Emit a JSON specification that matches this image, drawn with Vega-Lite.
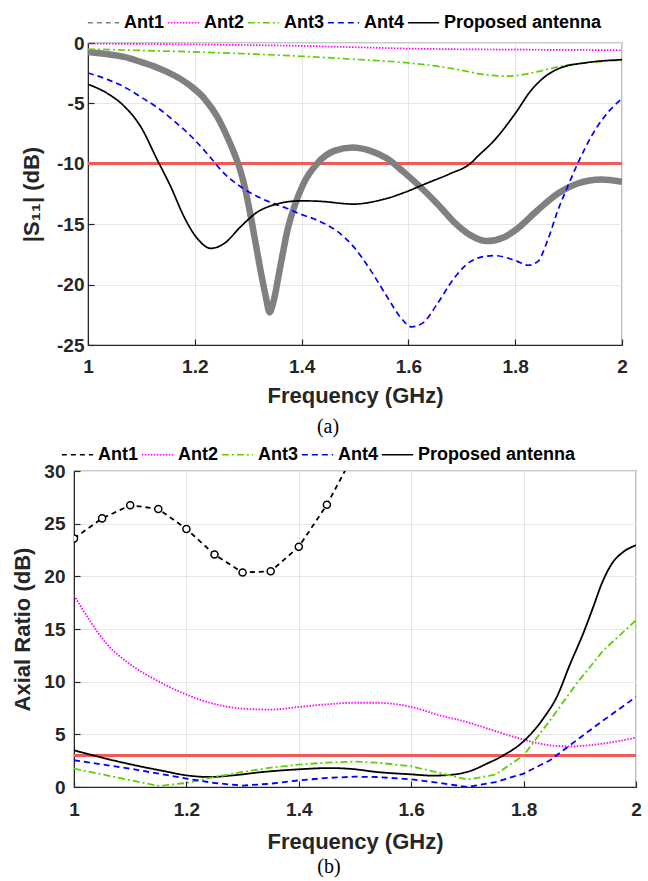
{
  "$schema": "https://vega.github.io/schema/vega-lite/v6.json",
  "background": "white",
  "padding": {"left": 11, "top": 5, "right": 2, "bottom": 2},
  "spacing": 126,
  "center": true,
  "bounds": "flush",
  "config": {
    "view": {"stroke": "#262626", "strokeWidth": 1.2},
    "axis": {
      "labelFont": "Liberation Sans", "labelFontSize": 19, "labelFontWeight": "bold", "labelColor": "#262626",
      "titleFont": "Liberation Sans", "titleFontSize": 22, "titleFontWeight": "bold", "titleColor": "#262626",
      "gridColor": "#e6e6e6", "gridWidth": 1, "domainColor": "#262626", "tickColor": "#262626",
      "tickSize": -6, "tickWidth": 1.2, "labelFlush": false, "labelOverlap": false
    },
    "legend": {
      "orient": "none", "direction": "horizontal", "title": null,
      "labelFont": "Liberation Sans", "labelFontSize": 18, "labelFontWeight": "bold", "labelColor": "#000000",
      "symbolType": "stroke", "symbolSize": 980, "symbolStrokeWidth": 1.6,
      "columnPadding": 0, "labelOffset": 4, "labelLimit": 400, "padding": 0
    },
    "title": {"font": "Liberation Serif", "fontSize": 20, "fontWeight": "normal", "color": "#000000", "orient": "bottom", "anchor": "middle", "offset": 8}
  },
  "datasets": {
    "s11": [
      {"f": 1.0, "v": -0.74, "s": "Ant1"}, {"f": 1.037, "v": -0.93, "s": "Ant1"}, {"f": 1.068, "v": -1.15, "s": "Ant1"},
      {"f": 1.099, "v": -1.57, "s": "Ant1"}, {"f": 1.13, "v": -2.04, "s": "Ant1"}, {"f": 1.161, "v": -2.67, "s": "Ant1"},
      {"f": 1.193, "v": -3.58, "s": "Ant1"}, {"f": 1.218, "v": -4.6, "s": "Ant1"}, {"f": 1.242, "v": -6.1, "s": "Ant1"},
      {"f": 1.261, "v": -7.8, "s": "Ant1"}, {"f": 1.274, "v": -9.15, "s": "Ant1"}, {"f": 1.285, "v": -10.5, "s": "Ant1"},
      {"f": 1.295, "v": -12.2, "s": "Ant1"}, {"f": 1.305, "v": -14.4, "s": "Ant1"}, {"f": 1.314, "v": -16.6, "s": "Ant1"},
      {"f": 1.323, "v": -18.8, "s": "Ant1"}, {"f": 1.333, "v": -21.0, "s": "Ant1"}, {"f": 1.34, "v": -22.3, "s": "Ant1"},
      {"f": 1.348, "v": -21.3, "s": "Ant1"}, {"f": 1.358, "v": -19.0, "s": "Ant1"}, {"f": 1.367, "v": -16.9, "s": "Ant1"},
      {"f": 1.374, "v": -15.4, "s": "Ant1"}, {"f": 1.386, "v": -13.6, "s": "Ant1"}, {"f": 1.404, "v": -11.6, "s": "Ant1"},
      {"f": 1.429, "v": -9.98, "s": "Ant1"}, {"f": 1.461, "v": -8.93, "s": "Ant1"}, {"f": 1.495, "v": -8.65, "s": "Ant1"},
      {"f": 1.529, "v": -8.93, "s": "Ant1"}, {"f": 1.56, "v": -9.56, "s": "Ant1"}, {"f": 1.591, "v": -10.67, "s": "Ant1"},
      {"f": 1.622, "v": -11.9, "s": "Ant1"}, {"f": 1.654, "v": -13.3, "s": "Ant1"}, {"f": 1.685, "v": -14.8, "s": "Ant1"},
      {"f": 1.716, "v": -15.9, "s": "Ant1"}, {"f": 1.747, "v": -16.4, "s": "Ant1"}, {"f": 1.778, "v": -16.1, "s": "Ant1"},
      {"f": 1.8, "v": -15.5, "s": "Ant1"}, {"f": 1.842, "v": -13.84, "s": "Ant1"}, {"f": 1.88, "v": -12.46, "s": "Ant1"},
      {"f": 1.917, "v": -11.63, "s": "Ant1"}, {"f": 1.961, "v": -11.3, "s": "Ant1"}, {"f": 2.0, "v": -11.5, "s": "Ant1"},

      {"f": 1.0, "v": -0.05, "s": "Ant2"}, {"f": 1.1, "v": -0.08, "s": "Ant2"}, {"f": 1.2, "v": -0.12, "s": "Ant2"},
      {"f": 1.3, "v": -0.17, "s": "Ant2"}, {"f": 1.4, "v": -0.24, "s": "Ant2"}, {"f": 1.5, "v": -0.35, "s": "Ant2"},
      {"f": 1.6, "v": -0.46, "s": "Ant2"}, {"f": 1.7, "v": -0.52, "s": "Ant2"}, {"f": 1.8, "v": -0.55, "s": "Ant2"},
      {"f": 1.9, "v": -0.57, "s": "Ant2"}, {"f": 2.0, "v": -0.6, "s": "Ant2"},

      {"f": 1.0, "v": -0.5, "s": "Ant3"}, {"f": 1.1, "v": -0.62, "s": "Ant3"}, {"f": 1.2, "v": -0.74, "s": "Ant3"},
      {"f": 1.3, "v": -0.9, "s": "Ant3"}, {"f": 1.4, "v": -1.1, "s": "Ant3"}, {"f": 1.5, "v": -1.35, "s": "Ant3"},
      {"f": 1.6, "v": -1.65, "s": "Ant3"}, {"f": 1.65, "v": -1.9, "s": "Ant3"}, {"f": 1.7, "v": -2.26, "s": "Ant3"},
      {"f": 1.73, "v": -2.53, "s": "Ant3"}, {"f": 1.755, "v": -2.68, "s": "Ant3"}, {"f": 1.78, "v": -2.75, "s": "Ant3"},
      {"f": 1.805, "v": -2.68, "s": "Ant3"}, {"f": 1.83, "v": -2.48, "s": "Ant3"}, {"f": 1.886, "v": -1.93, "s": "Ant3"},
      {"f": 1.935, "v": -1.62, "s": "Ant3"}, {"f": 2.0, "v": -1.43, "s": "Ant3"},

      {"f": 1.0, "v": -2.48, "s": "Ant4"}, {"f": 1.037, "v": -3.03, "s": "Ant4"}, {"f": 1.068, "v": -3.64, "s": "Ant4"},
      {"f": 1.099, "v": -4.47, "s": "Ant4"}, {"f": 1.13, "v": -5.35, "s": "Ant4"}, {"f": 1.161, "v": -6.45, "s": "Ant4"},
      {"f": 1.193, "v": -7.72, "s": "Ant4"}, {"f": 1.224, "v": -9.2, "s": "Ant4"}, {"f": 1.255, "v": -10.8, "s": "Ant4"},
      {"f": 1.286, "v": -11.9, "s": "Ant4"}, {"f": 1.317, "v": -12.7, "s": "Ant4"}, {"f": 1.348, "v": -13.3, "s": "Ant4"},
      {"f": 1.373, "v": -13.7, "s": "Ant4"}, {"f": 1.392, "v": -14.06, "s": "Ant4"}, {"f": 1.429, "v": -14.67, "s": "Ant4"},
      {"f": 1.467, "v": -15.6, "s": "Ant4"}, {"f": 1.498, "v": -16.9, "s": "Ant4"}, {"f": 1.529, "v": -18.8, "s": "Ant4"},
      {"f": 1.56, "v": -21.0, "s": "Ant4"}, {"f": 1.585, "v": -22.7, "s": "Ant4"}, {"f": 1.606, "v": -23.5, "s": "Ant4"},
      {"f": 1.629, "v": -23.1, "s": "Ant4"}, {"f": 1.654, "v": -21.6, "s": "Ant4"}, {"f": 1.685, "v": -19.5, "s": "Ant4"},
      {"f": 1.716, "v": -18.1, "s": "Ant4"}, {"f": 1.745, "v": -17.65, "s": "Ant4"}, {"f": 1.761, "v": -17.6, "s": "Ant4"},
      {"f": 1.8, "v": -18.0, "s": "Ant4"}, {"f": 1.824, "v": -18.4, "s": "Ant4"}, {"f": 1.842, "v": -18.1, "s": "Ant4"},
      {"f": 1.861, "v": -16.3, "s": "Ant4"}, {"f": 1.88, "v": -13.84, "s": "Ant4"}, {"f": 1.898, "v": -11.9, "s": "Ant4"},
      {"f": 1.917, "v": -9.98, "s": "Ant4"}, {"f": 1.942, "v": -7.78, "s": "Ant4"}, {"f": 1.967, "v": -6.1, "s": "Ant4"},
      {"f": 2.0, "v": -4.6, "s": "Ant4"},

      {"f": 1.0, "v": -3.42, "s": "Proposed antenna"}, {"f": 1.037, "v": -4.19, "s": "Proposed antenna"},
      {"f": 1.068, "v": -5.24, "s": "Proposed antenna"}, {"f": 1.099, "v": -6.95, "s": "Proposed antenna"},
      {"f": 1.13, "v": -9.7, "s": "Proposed antenna"}, {"f": 1.155, "v": -11.9, "s": "Proposed antenna"},
      {"f": 1.18, "v": -14.4, "s": "Proposed antenna"}, {"f": 1.205, "v": -16.2, "s": "Proposed antenna"},
      {"f": 1.23, "v": -17.0, "s": "Proposed antenna"}, {"f": 1.255, "v": -16.6, "s": "Proposed antenna"},
      {"f": 1.286, "v": -15.2, "s": "Proposed antenna"}, {"f": 1.317, "v": -14.0, "s": "Proposed antenna"},
      {"f": 1.348, "v": -13.4, "s": "Proposed antenna"}, {"f": 1.373, "v": -13.15, "s": "Proposed antenna"},
      {"f": 1.395, "v": -13.07, "s": "Proposed antenna"}, {"f": 1.42, "v": -13.08, "s": "Proposed antenna"},
      {"f": 1.448, "v": -13.15, "s": "Proposed antenna"}, {"f": 1.475, "v": -13.28, "s": "Proposed antenna"},
      {"f": 1.498, "v": -13.34, "s": "Proposed antenna"}, {"f": 1.52, "v": -13.25, "s": "Proposed antenna"},
      {"f": 1.541, "v": -13.07, "s": "Proposed antenna"}, {"f": 1.565, "v": -12.8, "s": "Proposed antenna"},
      {"f": 1.591, "v": -12.4, "s": "Proposed antenna"}, {"f": 1.635, "v": -11.6, "s": "Proposed antenna"},
      {"f": 1.679, "v": -10.8, "s": "Proposed antenna"}, {"f": 1.716, "v": -9.98, "s": "Proposed antenna"},
      {"f": 1.73, "v": -9.37, "s": "Proposed antenna"}, {"f": 1.761, "v": -8.05, "s": "Proposed antenna"},
      {"f": 1.8, "v": -5.84, "s": "Proposed antenna"}, {"f": 1.83, "v": -3.91, "s": "Proposed antenna"},
      {"f": 1.855, "v": -2.81, "s": "Proposed antenna"}, {"f": 1.886, "v": -2.04, "s": "Proposed antenna"},
      {"f": 1.93, "v": -1.65, "s": "Proposed antenna"}, {"f": 2.0, "v": -1.38, "s": "Proposed antenna"}
    ],
    "ar": [
      {"f": 1.0, "v": 23.6, "s": "Ant1"}, {"f": 1.05, "v": 25.5, "s": "Ant1"}, {"f": 1.1, "v": 26.75, "s": "Ant1"},
      {"f": 1.15, "v": 26.4, "s": "Ant1"}, {"f": 1.2, "v": 24.5, "s": "Ant1"}, {"f": 1.25, "v": 22.07, "s": "Ant1"},
      {"f": 1.3, "v": 20.36, "s": "Ant1"}, {"f": 1.35, "v": 20.48, "s": "Ant1"}, {"f": 1.4, "v": 22.8, "s": "Ant1"},
      {"f": 1.45, "v": 26.8, "s": "Ant1"}, {"f": 1.5, "v": 31.8, "s": "Ant1"},

      {"f": 1.0, "v": 18.2, "s": "Ant2"}, {"f": 1.028, "v": 15.8, "s": "Ant2"}, {"f": 1.058, "v": 13.6, "s": "Ant2"},
      {"f": 1.1, "v": 11.65, "s": "Ant2"}, {"f": 1.15, "v": 10.04, "s": "Ant2"}, {"f": 1.2, "v": 8.77, "s": "Ant2"},
      {"f": 1.25, "v": 7.88, "s": "Ant2"}, {"f": 1.3, "v": 7.44, "s": "Ant2"}, {"f": 1.35, "v": 7.35, "s": "Ant2"},
      {"f": 1.4, "v": 7.6, "s": "Ant2"}, {"f": 1.45, "v": 7.85, "s": "Ant2"}, {"f": 1.5, "v": 8.0, "s": "Ant2"},
      {"f": 1.538, "v": 8.0, "s": "Ant2"}, {"f": 1.6, "v": 7.6, "s": "Ant2"}, {"f": 1.651, "v": 6.8, "s": "Ant2"},
      {"f": 1.699, "v": 6.17, "s": "Ant2"}, {"f": 1.749, "v": 5.32, "s": "Ant2"}, {"f": 1.8, "v": 4.5, "s": "Ant2"},
      {"f": 1.847, "v": 3.96, "s": "Ant2"}, {"f": 1.883, "v": 3.86, "s": "Ant2"}, {"f": 1.942, "v": 4.12, "s": "Ant2"},
      {"f": 2.0, "v": 4.69, "s": "Ant2"},

      {"f": 1.0, "v": 1.74, "s": "Ant3"}, {"f": 1.15, "v": 0.1, "s": "Ant3"}, {"f": 1.2, "v": 0.38, "s": "Ant3"},
      {"f": 1.25, "v": 0.95, "s": "Ant3"}, {"f": 1.3, "v": 1.43, "s": "Ant3"}, {"f": 1.35, "v": 1.84, "s": "Ant3"},
      {"f": 1.4, "v": 2.13, "s": "Ant3"}, {"f": 1.45, "v": 2.32, "s": "Ant3"}, {"f": 1.5, "v": 2.41, "s": "Ant3"},
      {"f": 1.538, "v": 2.32, "s": "Ant3"}, {"f": 1.6, "v": 1.97, "s": "Ant3"}, {"f": 1.651, "v": 1.33, "s": "Ant3"},
      {"f": 1.7, "v": 0.7, "s": "Ant3"}, {"f": 1.75, "v": 1.18, "s": "Ant3"}, {"f": 1.8, "v": 3.0, "s": "Ant3"},
      {"f": 1.847, "v": 6.33, "s": "Ant3"}, {"f": 1.894, "v": 9.8, "s": "Ant3"}, {"f": 1.942, "v": 12.98, "s": "Ant3"},
      {"f": 2.0, "v": 15.83, "s": "Ant3"},

      {"f": 1.0, "v": 2.54, "s": "Ant4"}, {"f": 1.1, "v": 1.74, "s": "Ant4"}, {"f": 1.2, "v": 0.8, "s": "Ant4"},
      {"f": 1.25, "v": 0.38, "s": "Ant4"}, {"f": 1.3, "v": 0.13, "s": "Ant4"}, {"f": 1.35, "v": 0.32, "s": "Ant4"},
      {"f": 1.4, "v": 0.63, "s": "Ant4"}, {"f": 1.45, "v": 0.86, "s": "Ant4"}, {"f": 1.5, "v": 0.98, "s": "Ant4"},
      {"f": 1.538, "v": 0.95, "s": "Ant4"}, {"f": 1.6, "v": 0.73, "s": "Ant4"}, {"f": 1.651, "v": 0.38, "s": "Ant4"},
      {"f": 1.7, "v": 0.0, "s": "Ant4"}, {"f": 1.75, "v": 0.47, "s": "Ant4"}, {"f": 1.8, "v": 1.27, "s": "Ant4"},
      {"f": 1.847, "v": 2.54, "s": "Ant4"}, {"f": 1.894, "v": 4.43, "s": "Ant4"}, {"f": 1.942, "v": 6.33, "s": "Ant4"},
      {"f": 2.0, "v": 8.55, "s": "Ant4"},

      {"f": 1.0, "v": 3.49, "s": "Proposed antenna"}, {"f": 1.04, "v": 2.92, "s": "Proposed antenna"},
      {"f": 1.1, "v": 2.16, "s": "Proposed antenna"}, {"f": 1.159, "v": 1.52, "s": "Proposed antenna"},
      {"f": 1.2, "v": 1.11, "s": "Proposed antenna"}, {"f": 1.242, "v": 0.95, "s": "Proposed antenna"},
      {"f": 1.278, "v": 1.08, "s": "Proposed antenna"}, {"f": 1.337, "v": 1.43, "s": "Proposed antenna"},
      {"f": 1.4, "v": 1.68, "s": "Proposed antenna"}, {"f": 1.456, "v": 1.8, "s": "Proposed antenna"},
      {"f": 1.497, "v": 1.7, "s": "Proposed antenna"}, {"f": 1.538, "v": 1.43, "s": "Proposed antenna"},
      {"f": 1.6, "v": 1.2, "s": "Proposed antenna"}, {"f": 1.639, "v": 1.08, "s": "Proposed antenna"},
      {"f": 1.675, "v": 1.18, "s": "Proposed antenna"}, {"f": 1.705, "v": 1.52, "s": "Proposed antenna"},
      {"f": 1.734, "v": 2.2, "s": "Proposed antenna"}, {"f": 1.764, "v": 3.0, "s": "Proposed antenna"},
      {"f": 1.8, "v": 4.34, "s": "Proposed antenna"}, {"f": 1.835, "v": 6.5, "s": "Proposed antenna"},
      {"f": 1.859, "v": 8.55, "s": "Proposed antenna"}, {"f": 1.883, "v": 11.7, "s": "Proposed antenna"},
      {"f": 1.906, "v": 14.57, "s": "Proposed antenna"}, {"f": 1.924, "v": 17.1, "s": "Proposed antenna"},
      {"f": 1.939, "v": 19.3, "s": "Proposed antenna"}, {"f": 1.957, "v": 21.2, "s": "Proposed antenna"},
      {"f": 1.977, "v": 22.3, "s": "Proposed antenna"}, {"f": 2.0, "v": 22.95, "s": "Proposed antenna"}
    ]
  },
  "resolve": {"scale": {"color": "independent", "strokeDash": "independent"}},
  "vconcat": [
    {
      "width": 534,
      "height": 302,
      "title": {"text": "(a)", "dx": -27, "offset": 11},
      "data": {"name": "s11"},
      "encoding": {
        "x": {"field": "f", "type": "quantitative", "scale": {"domain": [1, 2], "nice": false},
              "axis": {"title": "Frequency (GHz)", "values": [1, 1.2, 1.4, 1.6, 1.8, 2], "format": "~g", "labelPadding": 18, "titlePadding": 9}},
        "y": {"field": "v", "type": "quantitative", "scale": {"domain": [-25, 0], "nice": false},
              "axis": {"title": "|S₁₁| (dB)", "values": [-25, -20, -15, -10, -5, 0], "labelExpr": "replace(datum.label, '\u2212', '-')", "labelPadding": 10, "titlePadding": 13}}
      },
      "layer": [
        {
          "mark": {"type": "rule", "color": "#f25a5a", "strokeWidth": 2.5, "opacity": 0.85},
          "encoding": {"x": {"datum": 1}, "x2": {"datum": 2}, "y": {"datum": -10}}
        },
        {
          "transform": [{"filter": "datum.s === 'Ant1'"}],
          "mark": {"type": "line", "interpolate": "monotone", "clip": true, "strokeWidth": 6.5},
          "encoding": {
            "color": {"field": "s", "type": "nominal",
                      "scale": {"domain": ["Ant1", "Ant2", "Ant3", "Ant4", "Proposed antenna"], "range": ["#808080", "#ff00ff", "#5dd000", "#0000ff", "#000000"]},
                      "legend": {"legendX": -1, "legendY": -37, "encode": {"symbols": {"update": {"strokeWidth": {"value": 1.6}}}}}},
            "order": {"field": "f"}
          }
        },
        {
          "transform": [{"filter": "datum.s !== 'Ant1'"}],
          "mark": {"type": "line", "interpolate": "monotone", "clip": true, "strokeWidth": 1.7},
          "encoding": {
            "color": {"field": "s", "type": "nominal", "legend": {"legendX": -1, "legendY": -37, "encode": {"symbols": {"update": {"strokeWidth": {"value": 1.6}}}}}},
            "strokeDash": {"field": "s", "type": "nominal",
                      "scale": {"domain": ["Ant1", "Ant2", "Ant3", "Ant4", "Proposed antenna"], "range": [[5, 4], [1.5, 1.5], [7, 3, 2, 3], [6, 4], [1, 0]]},
                      "legend": {"legendX": -1, "legendY": -37, "encode": {"symbols": {"update": {"strokeWidth": {"value": 1.6}}}}}},
            "order": {"field": "f"}
          }
        }
      ]
    },
    {
      "width": 562,
      "height": 316,
      "title": {"text": "(b)", "dx": -26, "offset": 5},
      "data": {"name": "ar"},
      "encoding": {
        "x": {"field": "f", "type": "quantitative", "scale": {"domain": [1, 2], "nice": false},
              "axis": {"title": "Frequency (GHz)", "values": [1, 1.2, 1.4, 1.6, 1.8, 2], "format": "~g", "labelPadding": 19, "titlePadding": 12}},
        "y": {"field": "v", "type": "quantitative", "scale": {"domain": [0, 30], "nice": false},
              "axis": {"title": "Axial Ratio (dB)", "values": [0, 5, 10, 15, 20, 25, 30], "labelPadding": 15, "titlePadding": 9}}
      },
      "layer": [
        {
          "mark": {"type": "rule", "color": "#f25a5a", "strokeWidth": 2.5, "opacity": 0.9},
          "encoding": {"x": {"datum": 1}, "x2": {"datum": 2}, "y": {"datum": 3}}
        },
        {
          "transform": [{"filter": "datum.s === 'Ant2' || datum.s === 'Proposed antenna'"}],
          "mark": {"type": "line", "interpolate": "monotone", "clip": true, "strokeWidth": 1.8},
          "encoding": {
            "color": {"field": "s", "type": "nominal",
                      "scale": {"domain": ["Ant1", "Ant2", "Ant3", "Ant4", "Proposed antenna"], "range": ["#000000", "#ff00ff", "#5dd000", "#0000ff", "#000000"]},
                      "legend": {"legendX": -13, "legendY": -33, "symbolStrokeWidth": 1.6}},
            "strokeDash": {"field": "s", "type": "nominal",
                      "scale": {"domain": ["Ant1", "Ant2", "Ant3", "Ant4", "Proposed antenna"], "range": [[5, 4], [1.5, 1.5], [7, 3, 2, 3], [6, 4], [1, 0]]},
                      "legend": {"legendX": -13, "legendY": -33, "symbolStrokeWidth": 1.6}},
            "order": {"field": "f"}
          }
        },
        {
          "transform": [{"filter": "datum.s !== 'Ant2' && datum.s !== 'Proposed antenna'"}],
          "mark": {"type": "line", "interpolate": "linear", "clip": true, "strokeWidth": 1.8},
          "encoding": {
            "color": {"field": "s", "type": "nominal"},
            "strokeDash": {"field": "s", "type": "nominal"},
            "order": {"field": "f"}
          }
        },
        {
          "transform": [{"filter": "datum.s === 'Ant1'"}],
          "mark": {"type": "point", "shape": "circle", "filled": false, "fill": "white", "fillOpacity": 1, "stroke": "#000000", "strokeWidth": 1.5, "size": 50, "clip": true},
          "encoding": {}
        }
      ]
    }
  ]
}
